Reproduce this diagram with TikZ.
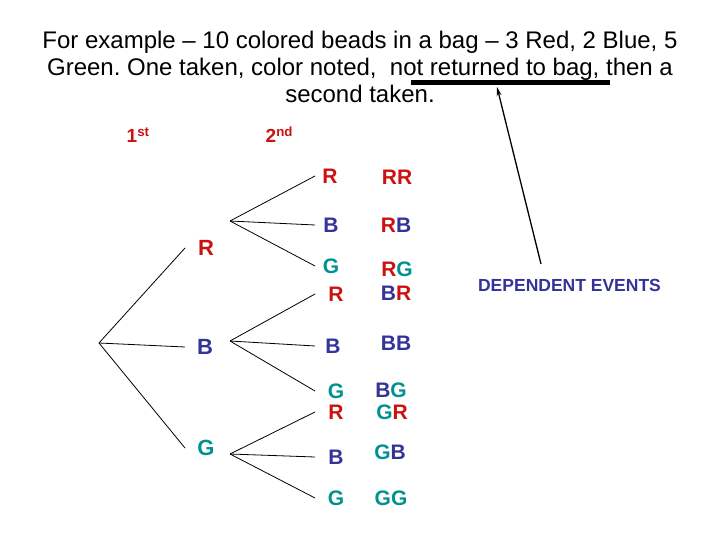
\documentclass[tikz,border=0pt]{standalone}
\usepackage{fontspec}
\setmainfont{Liberation Sans}
\usepackage{xcolor}
\usepackage{tikz}
\usetikzlibrary{arrows.meta}
\frenchspacing

\definecolor{beadred}{RGB}{204,17,17}
\definecolor{beadblue}{RGB}{51,51,153}
\definecolor{beadgreen}{RGB}{0,145,145}
\newcommand{\beadR}{\textcolor{beadred}{R}}
\newcommand{\beadB}{\textcolor{beadblue}{B}}
\newcommand{\beadG}{\textcolor{beadgreen}{G}}

\begin{document}
\begin{tikzpicture}[
    x=1pt, y=-1pt,
    title/.style={align=center, inner sep=0pt, font=\fontsize{24}{27.3}\selectfont},
    bead/.style={inner sep=0pt, font=\fontsize{22}{22}\selectfont\bfseries},
    leaf/.style={inner sep=0pt, font=\fontsize{21}{21}\selectfont\bfseries},
    draw1/.style={inner sep=0pt, anchor=base west, text=beadred, font=\fontsize{19}{19}\selectfont\bfseries},
    branch/.style={line width=0.8pt},
    arr/.style={-{Stealth[length=9pt,width=5pt]}, line width=1.3pt},
]
\useasboundingbox (0,0) rectangle (720,540);

\node[title, anchor=north] (head) at (360,30.5) {For example -- 10 colored beads in a bag -- 3 Red, 2 Blue, 5\\Green. One taken, color noted, \ not returned to bag, then a\\second taken.};
\node[draw1] (first) at (126.5,143) {1\textsuperscript{st}};
\node[draw1] (second) at (265.5,143) {2\textsuperscript{nd}};

% first bead
\node[bead, text=beadred] (R1) at (206,248) {R};
\node[bead, text=beadblue] (B1) at (205,347) {B};
\node[bead, text=beadgreen] (G1) at (206,448) {G};

% second bead
\node[leaf, text=beadred] (RR2) at (330,176) {R};
\node[leaf, text=beadblue] (RB2) at (331,225) {B};
\node[leaf, text=beadgreen] (RG2) at (331,266) {G};
\node[leaf, text=beadred] (BR2) at (336,294) {R};
\node[leaf, text=beadblue] (BB2) at (333,346) {B};
\node[leaf, text=beadgreen] (BG2) at (336,391) {G};
\node[leaf, text=beadred] (GR2) at (336,412) {R};
\node[leaf, text=beadblue] (GB2) at (336,457) {B};
\node[leaf, text=beadgreen] (GG2) at (336,498) {G};

% outcomes
\node[leaf] (RR) at (397,177) {\beadR\beadR};
\node[leaf] (RB) at (396,225) {\beadR\beadB};
\node[leaf] (RG) at (397,269) {\beadR\beadG};
\node[leaf] (BR) at (396,293) {\beadB\beadR};
\node[leaf] (BB) at (396,343) {\beadB\beadB};
\node[leaf] (BG) at (391,390) {\beadB\beadG};
\node[leaf] (GR) at (392,412) {\beadG\beadR};
\node[leaf] (GB) at (390,452) {\beadG\beadB};
\node[leaf] (GG) at (391,498) {\beadG\beadG};

\coordinate (root) at (99,343);
\coordinate (endA) at (185,0);
\coordinate (endB) at (315,0);
\coordinate (fanR) at (230,221);
\coordinate (fanB) at (230,341);
\coordinate (fanG) at (230,454);

\foreach \a in {R,B,G} {
  \draw[branch] (root) -- (endA |- \a1);
  \foreach \b in {R,B,G}
    \draw[branch] (fan\a) -- (endB |- \a\b2);
}

% dependent events note
\node[inner sep=0pt, text=beadblue, font=\fontsize{17.5}{17.5}\selectfont\bfseries] (dep) at (569.5,285) {DEPENDENT EVENTS};
\draw[line width=5pt] (411,82.5) -- (610,82.5);
\coordinate (tail) at (541,264);
\coordinate (bar) at (497,87);
\draw[arr] (tail) -- (bar);
\end{tikzpicture}
\end{document}
